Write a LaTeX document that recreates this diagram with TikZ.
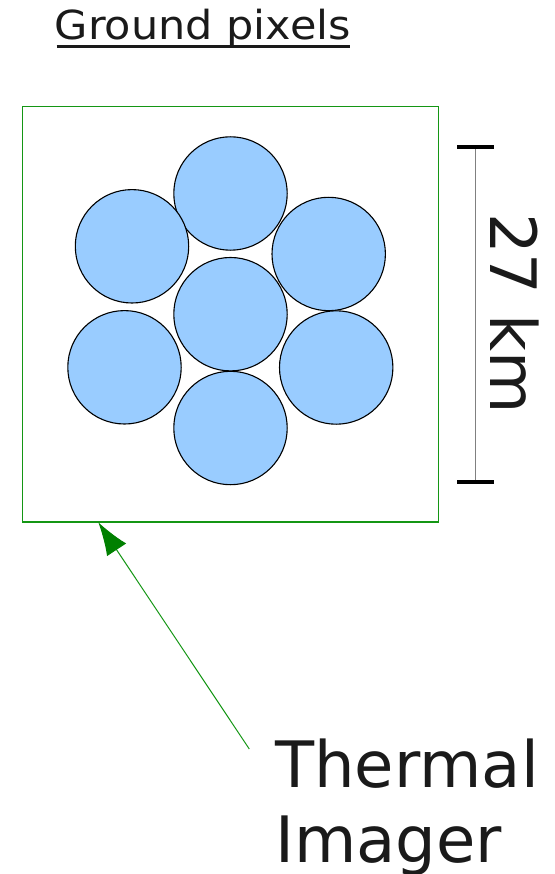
\documentclass[tikz,border=0pt]{standalone}
\usepackage{fontspec}
\setmainfont{DejaVu Sans}
\usetikzlibrary{arrows.meta,calc}

\definecolor{pixblue}{HTML}{99CCFF}
\definecolor{framegreen}{RGB}{20,150,20}
\definecolor{arrowgreen}{RGB}{0,128,0}
\definecolor{inkgray}{HTML}{1A1A1A}

\tikzset{
  pix/.style={circle, draw=black, line width=1.1pt, fill=pixblue,
    minimum size=113.4pt, inner sep=0pt},
  lbl/.style={text=inkgray, inner sep=0pt}
}

% (name, x, y)
\newcommand{\pixel}[3]{
    \node[pix] (#1) at (#2,#3) {};
}

\begin{document}
\begin{tikzpicture}[x=1pt, y=-1pt]
  \useasboundingbox (0,0) rectangle (554,874);

  \node[lbl, anchor=base west, xscale=1.075,
    font=\fontsize{40}{48}\selectfont] (title) at (54.5,39.3) {Ground pixels};
  \draw[inkgray, line width=2.5pt] (56.7,46.7) -- (350,46.7);

  \node[draw=framegreen, line width=1.2pt, minimum width=416pt,
    minimum height=415.5pt, inner sep=0pt] (frame) at (230.5,314.3) {};

  \pixel{top}{230.5}{193.5}
  \pixel{upleft}{132}{246.3}
  \pixel{upright}{328.7}{254}
  \pixel{mid}{230.5}{314.2}
  \pixel{lowleft}{124.5}{367.3}
  \pixel{lowright}{336.2}{367.5}
  \pixel{bottom}{230.5}{428}

  \coordinate (bartop) at (475.7,146.7);
  \coordinate (barbot) at (475.7,482.3);
  \draw[gray, line width=1.5pt] (bartop) -- (barbot);
  \draw[black, line width=4pt] ($(bartop)+(-18.4,0)$) -- ($(bartop)+(18.6,0)$);
  \draw[black, line width=4pt] ($(barbot)+(-18.4,0)$) -- ($(barbot)+(18.6,0)$);
  \node[lbl, rotate=-90, anchor=base west,
    font=\fontsize{64}{76}\selectfont] (size) at (490.7,213) {27 km};

  % base of a two-line node is the last line
  \node[lbl, anchor=base west, align=left,
    font=\fontsize{64}{75.4}\selectfont] (imager) at (275,862.7) {Thermal\\Imager};

  \coordinate (tail) at (249.3,749);
  \coordinate (tip) at (98.3,522.3);
  \draw[framegreen, line width=1pt,
    -{Latex[length=33pt, width=23pt, color=arrowgreen]}] (tail) -- (tip);

\end{tikzpicture}
\end{document}
